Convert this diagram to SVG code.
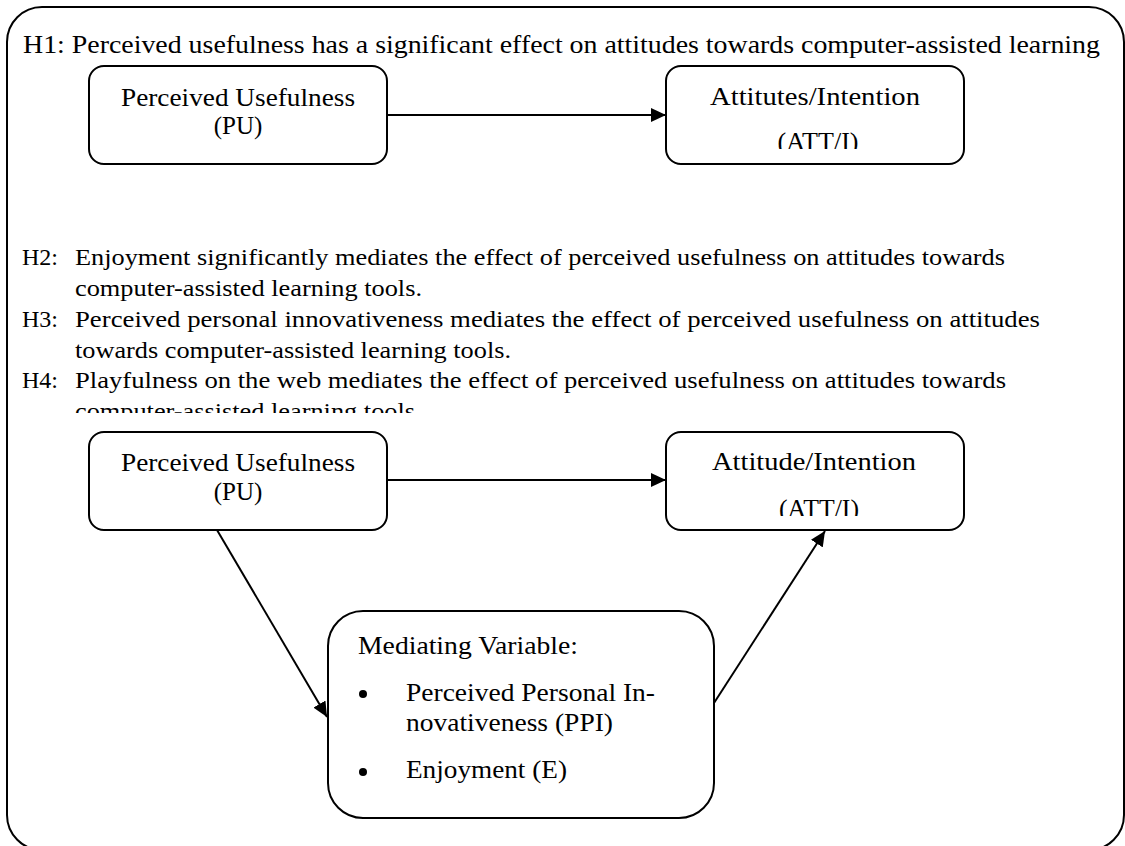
<svg xmlns="http://www.w3.org/2000/svg" width="1125" height="846" viewBox="0 0 1125 846">
  <style>
    .frame { fill: none; stroke: #000; stroke-width: 2; }
    .box { fill: #fff; stroke: #000; stroke-width: 2; }
    .t { font-family: "Liberation Serif", "Times New Roman", serif; font-size: 25px; fill: #000; }
    .h { font-family: "Liberation Serif", "Times New Roman", serif; font-size: 24px; fill: #000; }
    .c { text-anchor: middle; }
    .edge { fill: none; stroke: #000; stroke-width: 2; }
  </style>
  <defs>
    <marker id="arrow" markerUnits="userSpaceOnUse" markerWidth="16" markerHeight="14" refX="15" refY="7" orient="auto">
      <path d="M0,0 L15,7 L0,14 Z" fill="#000"/>
    </marker>
    <clipPath id="clipTopATT"><rect x="660" y="60" width="310" height="89"/></clipPath>
    <clipPath id="clipBotATT"><rect x="660" y="426" width="310" height="90"/></clipPath>
    <clipPath id="clipHyp"><rect x="0" y="230" width="1125" height="183"/></clipPath>
  </defs>

  <rect class="frame" x="7" y="7" width="1117" height="843" rx="35" ry="35"/>

  <g id="hypotheses">
    <text class="t" x="23" y="53" textLength="1077" lengthAdjust="spacingAndGlyphs">H1: Perceived usefulness has a significant effect on attitudes towards computer-assisted learning</text>
    <g clip-path="url(#clipHyp)">
      <text class="h" x="22" y="265">H2:</text>
      <text class="h" x="75" y="265" textLength="930" lengthAdjust="spacingAndGlyphs">Enjoyment significantly mediates the effect of perceived usefulness on attitudes towards</text>
      <text class="h" x="75" y="296" textLength="347" lengthAdjust="spacingAndGlyphs">computer-assisted learning tools.</text>
      <text class="h" x="22" y="327">H3:</text>
      <text class="h" x="75" y="327" textLength="965" lengthAdjust="spacingAndGlyphs">Perceived personal innovativeness mediates the effect of perceived usefulness on attitudes</text>
      <text class="h" x="75" y="358" textLength="436" lengthAdjust="spacingAndGlyphs">towards computer-assisted learning tools.</text>
      <text class="h" x="22" y="388">H4:</text>
      <text class="h" x="75" y="388" textLength="931" lengthAdjust="spacingAndGlyphs">Playfulness on the web mediates the effect of perceived usefulness on attitudes towards</text>
      <text class="h" x="75" y="419" textLength="340" lengthAdjust="spacingAndGlyphs">computer-assisted learning tools</text>
    </g>
  </g>

  <g id="connectors">
    <line class="edge" x1="387" y1="115" x2="666" y2="115" marker-end="url(#arrow)"/>
    <line class="edge" x1="387" y1="480" x2="666" y2="480" marker-end="url(#arrow)"/>
    <line class="edge" x1="217" y1="530" x2="327" y2="717" marker-end="url(#arrow)"/>
    <line class="edge" x1="714" y1="703" x2="825" y2="531" marker-end="url(#arrow)"/>
  </g>

  <g id="pu1">
    <rect class="box" x="89" y="66" width="298" height="98" rx="15" ry="15"/>
    <text class="t c" x="238" y="106" textLength="234" lengthAdjust="spacingAndGlyphs">Perceived Usefulness</text>
    <text class="t c" x="238" y="134">(PU)</text>
  </g>

  <g id="att1">
    <rect class="box" x="666" y="66" width="298" height="98" rx="15" ry="15"/>
    <text class="t c" x="815" y="105" textLength="210" lengthAdjust="spacingAndGlyphs">Attitutes/Intention</text>
    <text class="t c" x="818" y="150" textLength="81" lengthAdjust="spacingAndGlyphs" clip-path="url(#clipTopATT)">(ATT/I)</text>
  </g>

  <g id="pu2">
    <rect class="box" x="89" y="432" width="298" height="98" rx="15" ry="15"/>
    <text class="t c" x="238" y="471" textLength="234" lengthAdjust="spacingAndGlyphs">Perceived Usefulness</text>
    <text class="t c" x="238" y="500">(PU)</text>
  </g>

  <g id="att2">
    <rect class="box" x="666" y="432" width="298" height="98" rx="15" ry="15"/>
    <text class="t c" x="814" y="470" textLength="204" lengthAdjust="spacingAndGlyphs">Attitude/Intention</text>
    <text class="t c" x="819" y="517" textLength="80" lengthAdjust="spacingAndGlyphs" clip-path="url(#clipBotATT)">(ATT/I)</text>
  </g>

  <g id="mediator">
    <rect class="box" x="328" y="611" width="386" height="207" rx="35" ry="35"/>
    <text class="t" x="358" y="654" textLength="220" lengthAdjust="spacingAndGlyphs">Mediating Variable:</text>
    <circle cx="363" cy="694" r="4"/>
    <text class="t" x="406" y="701" textLength="249" lengthAdjust="spacingAndGlyphs">Perceived Personal In-</text>
    <text class="t" x="406" y="731" textLength="207" lengthAdjust="spacingAndGlyphs">novativeness (PPI)</text>
    <circle cx="363" cy="772" r="4"/>
    <text class="t" x="406" y="778" textLength="161" lengthAdjust="spacingAndGlyphs">Enjoyment (E)</text>
  </g>
</svg>
